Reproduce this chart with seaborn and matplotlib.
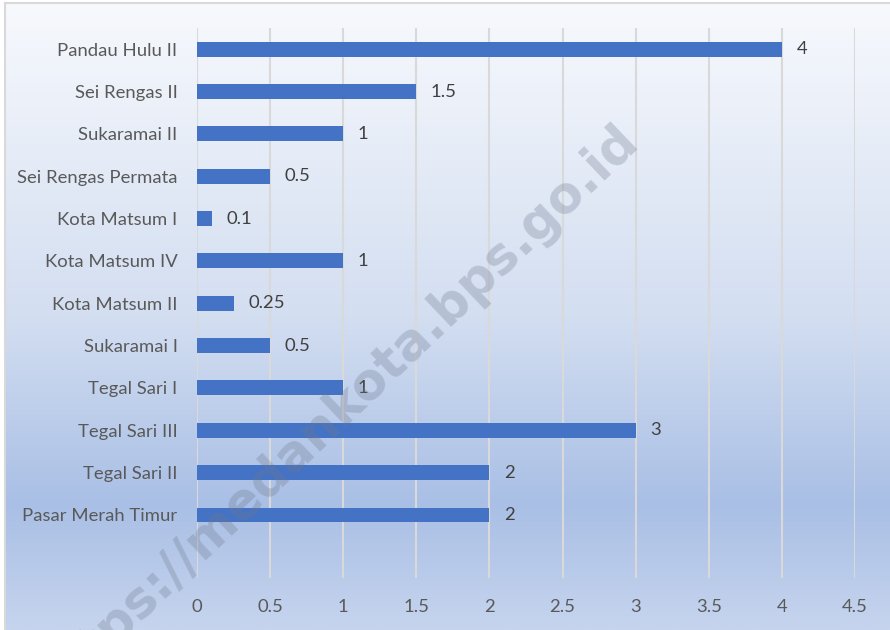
import numpy as np
import pandas as pd
import matplotlib
matplotlib.use("Agg")
import matplotlib.pyplot as plt
from matplotlib.colors import LinearSegmentedColormap
import seaborn as sns

# Data (top to bottom as shown)
kelurahan = ["Pandau Hulu II", "Sei Rengas II", "Sukaramai II", "Sei Rengas Permata",
             "Kota Matsum I", "Kota Matsum IV", "Kota Matsum II", "Sukaramai I",
             "Tegal Sari I", "Tegal Sari III", "Tegal Sari II", "Pasar Merah Timur"]
nilai = [4, 1.5, 1, 0.5, 0.1, 1, 0.25, 0.5, 1, 3, 2, 2]
x_ticks = [0, 0.5, 1, 1.5, 2, 2.5, 3, 3.5, 4, 4.5]
x_ticklabels = ["0", "0.5", "1", "1.5", "2", "2.5", "3", "3.5", "4", "4.5"]

df = pd.DataFrame({"kelurahan": kelurahan, "nilai": nilai})

sns.set_theme(style="white")
plt.rcParams["font.family"] = ["Lato", "DejaVu Sans"]

fig = plt.figure(figsize=(8.9, 6.3), dpi=100)

# gradient background of the chart area
bg = fig.add_axes([5 / 890, 0, 1, 1 - 3 / 630], zorder=-10)
cmap = LinearSegmentedColormap.from_list(
    "bg", [(0, "#f7f9fd"), (0.5, "#d3def1"), (0.8, "#a9bfe5"), (1.0, "#c6d4ee")])
grad = np.linspace(0, 1, 256).reshape(-1, 1)
bg.imshow(grad, aspect="auto", cmap=cmap, extent=[0, 1, 0, 1], origin="upper")
bg.set_xticks([])
bg.set_yticks([])
for s in ["right", "bottom"]:
    bg.spines[s].set_visible(False)
for s in ["left", "top"]:
    bg.spines[s].set_color("#d9d9d9")
    bg.spines[s].set_linewidth(1.5)

ax = fig.add_axes([197 / 890, 1 - 578 / 630, (855 - 197) / 890, (578 - 28) / 630])
ax.set_facecolor("none")

sns.barplot(data=df, x="nilai", y="kelurahan", color="#4472c4", width=0.35,
            saturation=1, linewidth=0, edgecolor="none", ax=ax, zorder=3)

for i, v in enumerate(nilai):
    ax.text(v + 0.1, i, f"{v:g}", va="center", ha="left", fontsize=13.3,
            color="#404040", zorder=4)

ax.set_xlim(0, 4.5)
ax.set_ylim(12.49, -0.5)
ax.set_xticks(x_ticks)
ax.set_xticklabels(x_ticklabels)
ax.xaxis.grid(True, color="#d9d9d9", linewidth=1.5, zorder=0)
ax.set_axisbelow(True)
ax.tick_params(axis="x", length=0, pad=15, labelsize=13.3, labelcolor="#595959")
ax.tick_params(axis="y", length=0, pad=14, labelsize=13.3, labelcolor="#595959")
ax.set_xlabel("")
ax.set_ylabel("")
for s in ax.spines.values():
    s.set_visible(False)

# watermark
fig.text(640 / 890, 1 - 143 / 630, "https://medankota.bps.go.id", fontsize=36.5,
         fontweight="bold", family="DejaVu Sans", color="#6f7a8e", alpha=0.3,
         rotation=43.6, rotation_mode="anchor", ha="right", va="baseline", zorder=5)

fig.savefig("out.png", dpi=100)
